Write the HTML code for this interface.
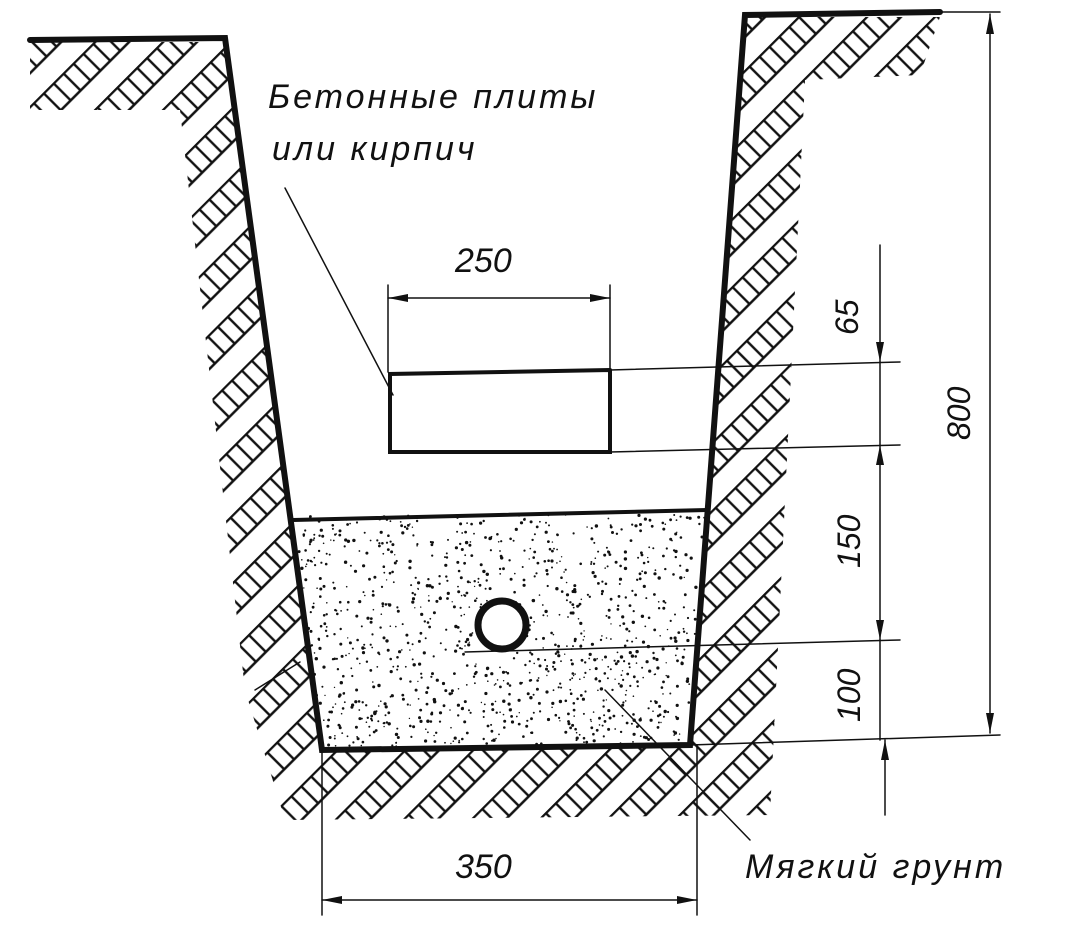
<!DOCTYPE html>
<html><head><meta charset="utf-8"><style>
html,body{margin:0;padding:0;background:#fff;width:1075px;height:943px;overflow:hidden}
text{font-family:"Liberation Sans",sans-serif;font-style:italic;fill:#111}
</style></head><body>
<svg width="1075" height="943" viewBox="0 0 1075 943" xmlns="http://www.w3.org/2000/svg">
<defs>
<pattern id="h" width="28" height="48" patternUnits="userSpaceOnUse" patternTransform="rotate(-45)">
<line x1="0" y1="1" x2="28" y2="1" stroke="#111" stroke-width="2.6"/>
<line x1="0" y1="25" x2="28" y2="25" stroke="#111" stroke-width="2.6"/>
<line x1="7" y1="1" x2="7" y2="25" stroke="#111" stroke-width="2.4"/>
<line x1="21" y1="1" x2="21" y2="25" stroke="#111" stroke-width="2.4"/>
</pattern>
<marker id="a" viewBox="0 0 20 8" refX="20" refY="4" markerWidth="20" markerHeight="8" markerUnits="userSpaceOnUse" orient="auto-start-reverse"><path d="M0,0 L20,4 L0,8 z" fill="#111"/></marker>
</defs>
<polygon points="30,42 225,42 322,752 690,747 745,17 940,17 920,75 805,80 770,815 285,820 245,690 180,110 30,110" fill="url(#h)"/>
<polygon points="293,520 707,510 690,745 322,750" fill="#fff"/>
<g id="dots" fill="#111"></g>
<g fill="none" stroke="#111" stroke-linecap="round">
<polyline points="30,40 225,38 322,750 690,745 745,15 940,12" stroke-width="6"/>
<line x1="293" y1="520" x2="707" y2="510" stroke-width="4"/>
<path d="M610,370 L390,374 L390,452 L610,452 L610,370" stroke-width="4"/>
<circle cx="502" cy="625" r="24" stroke-width="7" fill="#fff"/>
<g stroke-width="1.5">
<line x1="610" y1="370" x2="900" y2="362"/>
<line x1="610" y1="452" x2="900" y2="445"/>
<line x1="465" y1="652" x2="900" y2="640"/>
<line x1="690" y1="745" x2="1000" y2="735"/>
<line x1="940" y1="12" x2="1000" y2="12"/>
<line x1="388" y1="285" x2="388" y2="372"/>
<line x1="610" y1="285" x2="610" y2="372"/>
<line x1="388" y1="298" x2="610" y2="298" marker-start="url(#a)" marker-end="url(#a)"/>
<line x1="990" y1="14" x2="990" y2="733" marker-start="url(#a)" marker-end="url(#a)"/>
<line x1="880" y1="245" x2="880" y2="362" marker-end="url(#a)"/>
<line x1="880" y1="445" x2="880" y2="640" marker-start="url(#a)" marker-end="url(#a)"/>
<line x1="880" y1="362" x2="880" y2="445"/>
<line x1="880" y1="640" x2="880" y2="740"/>
<line x1="885" y1="815" x2="885" y2="740" marker-end="url(#a)"/>
<line x1="322" y1="750" x2="322" y2="915"/>
<line x1="697" y1="745" x2="697" y2="915"/>
<line x1="322" y1="900" x2="697" y2="900" marker-start="url(#a)" marker-end="url(#a)"/>
<line x1="285" y1="188" x2="393" y2="395"/>
<line x1="605" y1="690" x2="750" y2="840"/>
<line x1="255" y1="690" x2="300" y2="662"/>
</g></g>
<text x="268" y="108" font-size="34" letter-spacing="3">Бетонные плиты</text>
<text x="272" y="160" font-size="34" letter-spacing="3">или кирпич</text>
<text x="455" y="272" font-size="34">250</text>
<text x="455" y="878" font-size="34">350</text>
<text x="745" y="878" font-size="34" letter-spacing="3">Мягкий грунт</text>
<text transform="translate(858,335) rotate(-90)" font-size="32">65</text>
<text transform="translate(860,568) rotate(-90)" font-size="32">150</text>
<text transform="translate(860,722) rotate(-90)" font-size="32">100</text>
<text transform="translate(970,440) rotate(-90)" font-size="32">800</text>
</svg>
<script>
var g=document.getElementById('dots'),s=7,h='';
function r(){s=(s*16807)%2147483647;return s/2147483647;}
for(var i=0;i<1100;i++){var y=515+r()*232,t=(y-515)/232,xl=293+29*t,xr=707-17*t,x=xl+r()*(xr-xl);
h+='<circle cx="'+x.toFixed(1)+'" cy="'+y.toFixed(1)+'" r="'+(0.7+r()*1.0).toFixed(1)+'"/>';}
g.innerHTML=h;
</script>
</body></html>
